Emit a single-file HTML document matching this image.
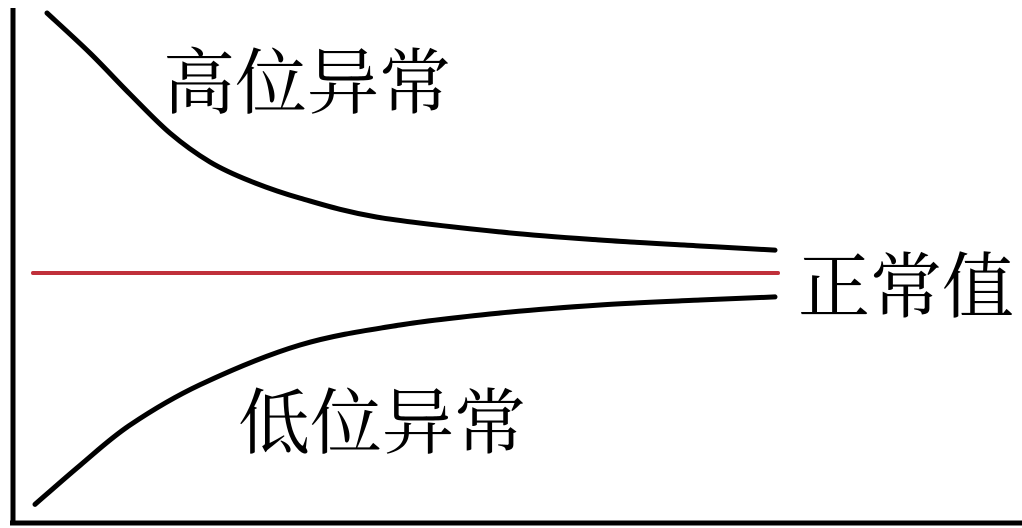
<!DOCTYPE html>
<html><head><meta charset="utf-8"><style>
html,body{margin:0;padding:0;background:#fff;width:1022px;height:528px;overflow:hidden}
svg text{font-family:"Liberation Serif","Noto Serif CJK SC",serif;fill:#000}
</style></head><body>
<svg id="chart" width="1022" height="528" xmlns="http://www.w3.org/2000/svg">
<line x1="13" y1="8" x2="13" y2="525" stroke="#000" stroke-width="5"/>
<line x1="10" y1="523" x2="1022" y2="523" stroke="#000" stroke-width="5"/>
<g id="marks"></g>
<text x="163" y="108" font-size="72">高位异常</text>
<text x="798" y="312" font-size="72">正常值</text>
<text x="238" y="448" font-size="72">低位异常</text>
</svg>
<script>
const upperX=[3.7,8,12,16,20,24,29,36.7,49,59,69,76.5];
const upperY=[100,84.6,68.8,53.8,42.7,35.4,28.8,21.5,15.8,12.7,10.4,8.8];
const lowerX=[2.5,7,12,19,29,39,49,59,69,76.5];
const lowerY=[-89,-74,-58.5,-43,-27.7,-20,-15.4,-12.3,-10.4,-9.2];
const normalX=[2.3,76.8];
const normalY=[0,0];
function xs(v){return 10+v*10;}
function ys(v){return 273-v*2.6;}
function smooth(xa,ya){
  const p=xa.map((x,i)=>[xs(x),ys(ya[i])]);
  let d='M'+p[0][0]+','+p[0][1];
  for(let i=0;i<p.length-1;i++){
    const p0=p[i-1]||p[i],p1=p[i],p2=p[i+1],p3=p[i+2]||p2;
    const c1=[p1[0]+(p2[0]-p0[0])/6,p1[1]+(p2[1]-p0[1])/6];
    const c2=[p2[0]-(p3[0]-p1[0])/6,p2[1]-(p3[1]-p1[1])/6];
    d+=' C'+c1+' '+c2+' '+p2;
  }
  return d;
}
const g=document.getElementById('marks');
const NS='http://www.w3.org/2000/svg';
const n=document.createElementNS(NS,'path');
n.setAttribute('d','M'+xs(normalX[0])+','+ys(normalY[0])+' L'+xs(normalX[1])+','+ys(normalY[1]));
n.setAttribute('stroke','#c0303a');n.setAttribute('stroke-width','4');n.setAttribute('stroke-linecap','round');n.setAttribute('fill','none');


g.appendChild(n);
const u=document.createElementNS(NS,'path');
u.setAttribute('d',smooth(upperX,upperY));
u.setAttribute('stroke','#000');u.setAttribute('stroke-width','5');u.setAttribute('stroke-linecap','round');u.setAttribute('fill','none');


g.appendChild(u);
const l=document.createElementNS(NS,'path');
l.setAttribute('d',smooth(lowerX,lowerY));
l.setAttribute('stroke','#000');l.setAttribute('stroke-width','5');l.setAttribute('stroke-linecap','round');l.setAttribute('fill','none');


g.appendChild(l);
</script>
</body></html>
